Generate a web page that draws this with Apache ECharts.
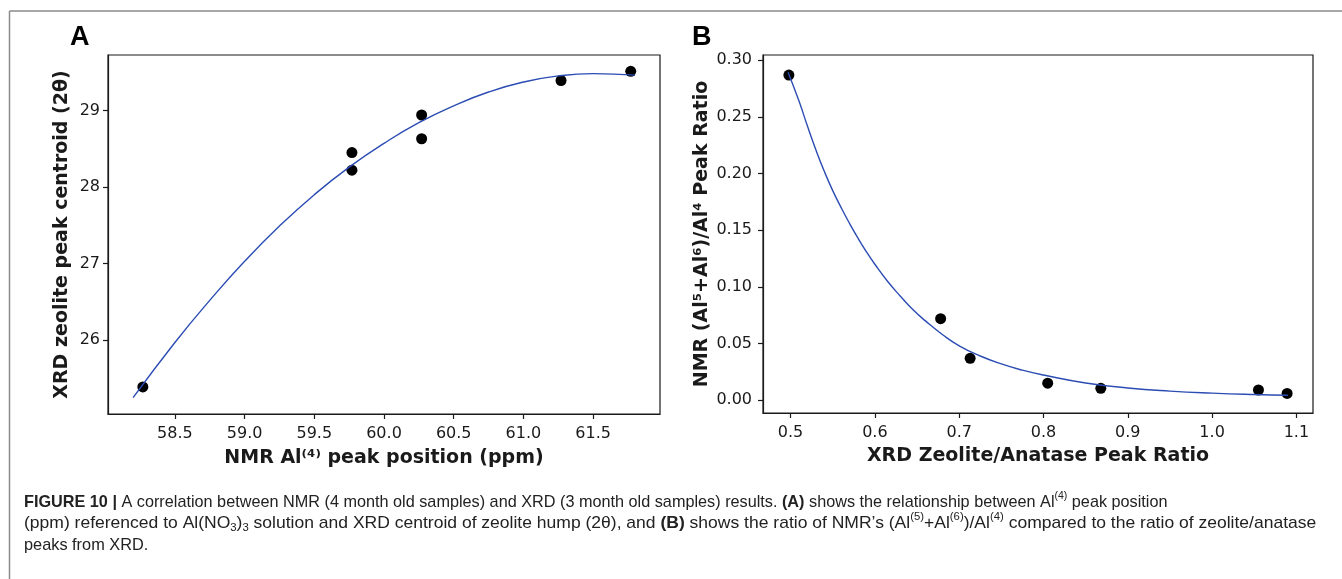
<!DOCTYPE html>
<html>
<head>
<meta charset="utf-8">
<script src="https://cdn.jsdelivr.net/npm/echarts@6/dist/echarts.min.js"></script>
<style>
  html, body { margin: 0; padding: 0; background: #fff; }
  #chart { width: 1342px; height: 579px; }
</style>
</head>
<body>
<div id="chart"></div>
<script>
// Panel A: NMR Al(4) peak position vs XRD zeolite centroid
const nmrAl4Position = [58.27, 59.77, 59.77, 60.27, 60.27, 61.27, 61.77];
const xrdZeoliteCentroid = [25.39, 28.45, 28.22, 28.94, 28.63, 29.39, 29.51];
// fitted trend line for panel A
const fitAx = [58.2, 58.5, 58.75, 59.0, 59.25, 59.5, 59.75, 60.0, 60.25, 60.5, 60.75, 61.0, 61.25, 61.5, 61.8];
const fitAy = [25.25, 25.97, 26.52, 27.03, 27.49, 27.90, 28.26, 28.57, 28.84, 29.06, 29.24, 29.37, 29.45, 29.48, 29.46];

// Panel B: XRD zeolite/anatase ratio vs NMR (Al5+Al6)/Al4 ratio
const xrdPeakRatio = [0.498, 0.678, 0.713, 0.805, 0.868, 1.055, 1.089];
const nmrPeakRatio = [0.287, 0.072, 0.037, 0.015, 0.0105, 0.009, 0.006];
// fitted decay curve for panel B
const fitBx = [0.497, 0.51, 0.52, 0.53, 0.54, 0.55, 0.56, 0.57, 0.58, 0.59, 0.60, 0.615, 0.63, 0.645, 0.66, 0.68, 0.70, 0.725, 0.75, 0.775, 0.80, 0.85, 0.90, 0.95, 1.00, 1.05, 1.09];
const fitBy = [0.2895, 0.264, 0.242, 0.221, 0.202, 0.185, 0.170, 0.156, 0.143, 0.131, 0.120, 0.105, 0.092, 0.080, 0.070, 0.058, 0.048, 0.039, 0.032, 0.0265, 0.0222, 0.0152, 0.0108, 0.0080, 0.0062, 0.0050, 0.0044];

// tick labels
const xTicksA = ['58.5', '59.0', '59.5', '60.0', '60.5', '61.0', '61.5'];
const yTicksA = ['26', '27', '28', '29'];
const xTicksB = ['0.5', '0.6', '0.7', '0.8', '0.9', '1.0', '1.1'];
const yTicksB = ['0.00', '0.05', '0.10', '0.15', '0.20', '0.25', '0.30'];

const zip = (a, b) => a.map((v, i) => [v, b[i]]);

const INK = '#1a1a1a';
const TICK_FONT = 'DejaVu Sans';
const FIT_BLUE = '#2b4cb3';

function tickAxis(labels, labelMargin, extra) {
  const values = labels.map(Number);
  const fmt = v => {
    let best = 0;
    for (let i = 1; i < values.length; i++) {
      if (Math.abs(values[i] - v) < Math.abs(values[best] - v)) best = i;
    }
    return labels[best];
  };
  return Object.assign({
    type: 'value',
    scale: true,
    splitLine: { show: false },
    axisLine: { show: true, onZero: false, lineStyle: { color: INK, width: 1.2 } },
    axisTick: { show: true, inside: false, length: 5, customValues: values, lineStyle: { color: INK, width: 1.2 } },
    axisLabel: {
      customValues: values, formatter: fmt,
      color: INK, fontFamily: TICK_FONT, fontSize: 16, margin: labelMargin
    },
    nameLocation: 'middle',
    nameTextStyle: { fontFamily: TICK_FONT, fontWeight: 'bold', fontSize: 19, color: INK }
  }, extra);
}

const chart = echarts.init(document.getElementById('chart'), null, { renderer: 'canvas' });

const capStyle = {
  fontFamily: 'Liberation Sans', fontSize: 17, fill: '#222',
  rich: {
    b: { fontFamily: 'Liberation Sans', fontSize: 17, fontWeight: 'bold', fill: '#222' },
    sup: { fontFamily: 'Liberation Sans', fontSize: 11, fill: '#222', lineHeight: 10, padding: [0, 0, 12, 0], verticalAlign: 'middle' },
    sub: { fontFamily: 'Liberation Sans', fontSize: 11, fill: '#222', lineHeight: 12, padding: [10, 0, 0, 0], verticalAlign: 'middle' },
    n: { fontFamily: 'Liberation Sans', fontSize: 17, fill: '#222', lineHeight: 22, verticalAlign: 'middle' }
  }
};

function captionLine(text, y, sx) {
  return {
    type: 'text', x: 24, y: y, scaleX: sx,
    style: Object.assign({}, capStyle, { text: text, textVerticalAlign: 'middle' })
  };
}

chart.setOption({
  animation: false,
  backgroundColor: '#ffffff',
  grid: [
    { left: 108, top: 55, width: 552, height: 359, show: true, borderColor: INK, borderWidth: 1.2, backgroundColor: 'transparent' },
    { left: 763, top: 55, width: 550, height: 358, show: true, borderColor: INK, borderWidth: 1.2, backgroundColor: 'transparent' }
  ],
  xAxis: [
    tickAxis(xTicksA, 12, { gridIndex: 0, min: 58.02, max: 61.98, name: 'NMR Al⁽⁴⁾ peak position (ppm)', nameGap: 35 }),
    tickAxis(xTicksB, 12, { gridIndex: 1, min: 0.4673, max: 1.1197, name: 'XRD Zeolite/Anatase Peak Ratio', nameGap: 34 })
  ],
  yAxis: [
    tickAxis(yTicksA, 8, { gridIndex: 0, min: 25.037, max: 29.723, name: 'XRD zeolite peak centroid (2θ)', nameGap: 36 }),
    tickAxis(yTicksB, 11, { gridIndex: 1, min: -0.0113, max: 0.3047, name: 'NMR (Al⁵+Al⁶)/Al⁴ Peak Ratio', nameGap: 51 })
  ],
  series: [
    {
      type: 'scatter', xAxisIndex: 0, yAxisIndex: 0, z: 2,
      data: zip(nmrAl4Position, xrdZeoliteCentroid),
      symbol: 'circle', symbolSize: 11, itemStyle: { color: '#000', opacity: 1 }
    },
    {
      type: 'line', xAxisIndex: 0, yAxisIndex: 0, z: 3,
      data: zip(fitAx, fitAy), smooth: true, showSymbol: false,
      lineStyle: { color: FIT_BLUE, width: 1.4 }
    },
    {
      type: 'scatter', xAxisIndex: 1, yAxisIndex: 1, z: 2,
      data: zip(xrdPeakRatio, nmrPeakRatio),
      symbol: 'circle', symbolSize: 11, itemStyle: { color: '#000', opacity: 1 }
    },
    {
      type: 'line', xAxisIndex: 1, yAxisIndex: 1, z: 3,
      data: zip(fitBx, fitBy), smooth: true, showSymbol: false,
      lineStyle: { color: FIT_BLUE, width: 1.4 }
    }
  ],
  graphic: [
    // figure frame
    { type: 'line', shape: { x1: 9.5, y1: 11, x2: 1342, y2: 11 }, style: { stroke: '#8a8a8a', lineWidth: 1.5 } },
    { type: 'line', shape: { x1: 9.5, y1: 11, x2: 9.5, y2: 579 }, style: { stroke: '#8a8a8a', lineWidth: 1.5 } },
    // panel letters
    { type: 'text', x: 70, y: 38, style: { text: 'A', fontFamily: 'Liberation Sans', fontWeight: 'bold', fontSize: 27, fill: '#000', textVerticalAlign: 'middle' } },
    { type: 'text', x: 692, y: 38, style: { text: 'B', fontFamily: 'Liberation Sans', fontWeight: 'bold', fontSize: 27, fill: '#000', textVerticalAlign: 'middle' } },
    // caption
    captionLine('{b|FIGURE 10 |}{n| A correlation between NMR (4 month old samples) and XRD (3 month old samples) results. }{b|(A)}{n| shows the relationship between Al}{sup|(4)}{n| peak position}', 502, 0.955),
    captionLine('{n|(ppm) referenced to Al(NO}{sub|3}{n|)}{sub|3}{n| solution and XRD centroid of zeolite hump (2θ), and }{b|(B)}{n| shows the ratio of NMR’s (Al}{sup|(5)}{n|+Al}{sup|(6)}{n|)/Al}{sup|(4)}{n| compared to the ratio of zeolite/anatase}', 523, 1.03),
    captionLine('{n|peaks from XRD.}', 545, 0.96)
  ]
});
</script>
</body>
</html>
